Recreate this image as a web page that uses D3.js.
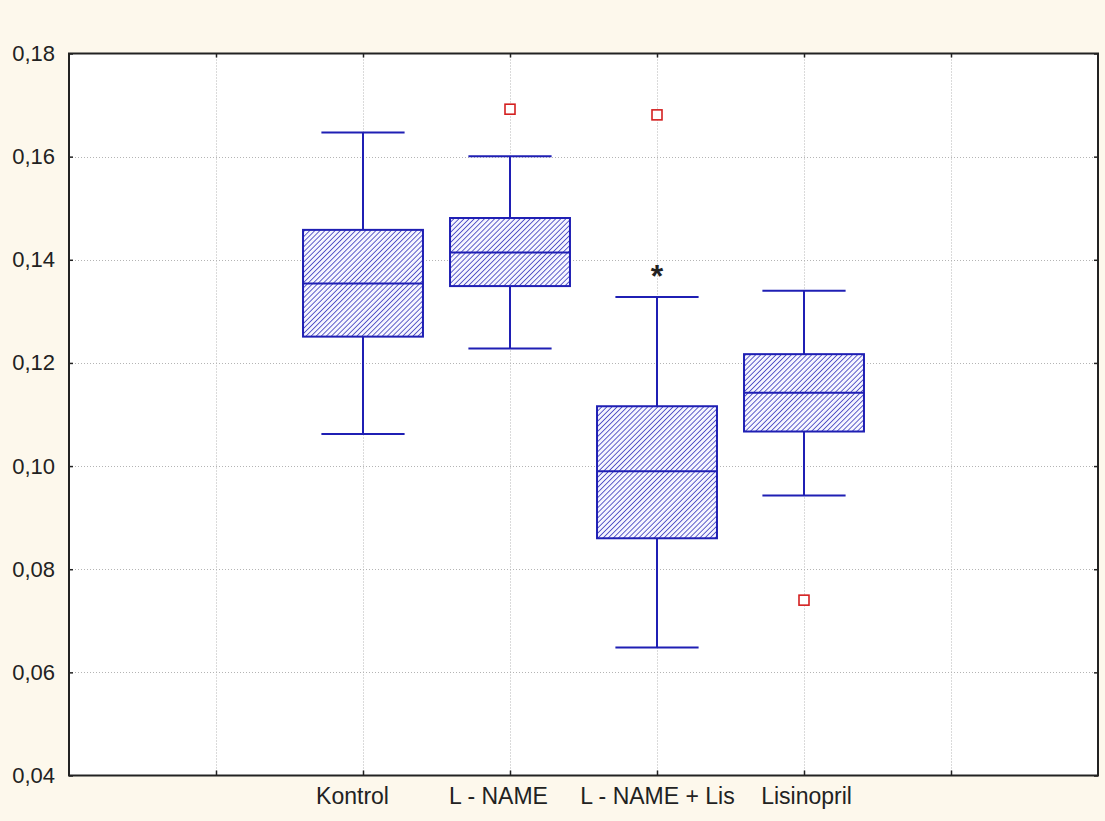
<!DOCTYPE html>
<html>
<head>
<meta charset="utf-8">
<script src="https://cdn.jsdelivr.net/npm/d3@7"></script>
<style>
  html, body { margin: 0; padding: 0; background: #fdf8ec; }
  svg { display: block; }
  text { font-family: "Liberation Sans", Arial, sans-serif; fill: #222; }
</style>
</head>
<body>
<svg id="chart" width="1105" height="821"></svg>
<script>
// Groups and their box-plot statistics
const groups      = ["Kontrol", "L - NAME", "L - NAME + Lis", "Lisinopril"];
const whiskerLow  = [0.1062, 0.1228, 0.0648, 0.0943];
const boxLow      = [0.1251, 0.1349, 0.0860, 0.1067];
const medians     = [0.1354, 0.1414, 0.0990, 0.1142];
const boxHigh     = [0.1458, 0.1481, 0.1116, 0.1217];
const whiskerHigh = [0.1647, 0.1601, 0.1328, 0.1340];
// Outliers: [group index, value]
const outliers    = [[1, 0.1692], [2, 0.1681], [3, 0.0740]];
// Significance marker: [group index, value]
const marks       = [[2, 0.1374]];
const yTicks      = [0.04, 0.06, 0.08, 0.10, 0.12, 0.14, 0.16, 0.18];
const xGridSlots  = [1, 2, 3, 4, 5, 6];

const svg = d3.select("#chart");
const plot = { left: 69, right: 1098, top: 53.5, bottom: 775.5 };
// horizontal nudge of each category label (px), so long labels don't crowd
const labelNudge = [-11, -12, 0, 2];

const x = d3.scaleLinear().domain([0, 7]).range([plot.left, plot.right]);
const y = d3.scaleLinear().domain([0.04, 0.18]).range([plot.bottom, plot.top]);
const slot = i => i + 2;

const fmt = d3.formatLocale({decimal: ",", thousands: ".", grouping: [3], currency: ["", ""]}).format(".2f");

const blue = "#1f1fb4";

// Hatch pattern for box fills
const defs = svg.append("defs");
const pat = defs.append("pattern")
  .attr("id", "hatch")
  .attr("patternUnits", "userSpaceOnUse")
  .attr("width", 3.6).attr("height", 3.6)
  .attr("patternTransform", "rotate(45)");
pat.append("rect").attr("width", 3.6).attr("height", 3.6).attr("fill", "#f6f6ff");
pat.append("line").attr("x1", 0).attr("y1", 0).attr("x2", 0).attr("y2", 3.6)
  .attr("stroke", blue).attr("stroke-width", 1.4);

// Plot area
svg.append("rect")
  .attr("x", plot.left).attr("y", plot.top)
  .attr("width", plot.right - plot.left).attr("height", plot.bottom - plot.top)
  .attr("fill", "#ffffff");

// Grid lines
const grid = svg.append("g").attr("stroke", "#b4b4b4").attr("stroke-width", 1)
  .attr("stroke-dasharray", "1,2");
grid.selectAll("line.h").data(yTicks.slice(1, -1)).join("line")
  .attr("x1", plot.left).attr("x2", plot.right)
  .attr("y1", d => Math.round(y(d)) + 0.5).attr("y2", d => Math.round(y(d)) + 0.5);
grid.selectAll("line.v").data(xGridSlots).join("line")
  .attr("x1", d => Math.round(x(d)) + 0.5).attr("x2", d => Math.round(x(d)) + 0.5)
  .attr("y1", plot.top).attr("y2", plot.bottom);

// Axes (ticks pointing inward)
const axisL = svg.append("g").attr("transform", `translate(${plot.left},0)`)
  .call(d3.axisLeft(y).tickValues(yTicks).tickFormat(fmt).tickSizeInner(-4).tickSizeOuter(0).tickPadding(14));
axisL.select(".domain").remove();
axisL.selectAll("line").attr("stroke", "#222").attr("stroke-width", 1.5);
axisL.selectAll("text").attr("font-size", 22).attr("fill", "#222");

const axisR = svg.append("g").attr("transform", `translate(${plot.right},0)`)
  .call(d3.axisRight(y).tickValues(yTicks).tickFormat("").tickSizeInner(-4).tickSizeOuter(0));
axisR.select(".domain").remove();
axisR.selectAll("line").attr("stroke", "#222").attr("stroke-width", 1.5);

const axisB = svg.append("g").attr("transform", `translate(0,${plot.bottom})`)
  .call(d3.axisBottom(x).tickValues(xGridSlots).tickFormat(d => groups[d - 2] || "")
    .tickSizeInner(-5).tickSizeOuter(0).tickPadding(12));
axisB.select(".domain").remove();
axisB.selectAll("line").attr("stroke", "#222").attr("stroke-width", 1.5);
axisB.selectAll("text").attr("font-size", 23).attr("fill", "#222")
  .attr("dx", d => labelNudge[d - 2] || 0);

const axisT = svg.append("g").attr("transform", `translate(0,${plot.top})`)
  .call(d3.axisTop(x).tickValues(xGridSlots).tickFormat("").tickSizeInner(-4).tickSizeOuter(0));
axisT.select(".domain").remove();
axisT.selectAll("line").attr("stroke", "#222").attr("stroke-width", 1.5);

// Frame
svg.append("rect")
  .attr("x", plot.left).attr("y", plot.top)
  .attr("width", plot.right - plot.left).attr("height", plot.bottom - plot.top)
  .attr("fill", "none").attr("stroke", "#222").attr("stroke-width", 2);

// Boxes
const boxHalf = 0.408, capHalf = 0.283;
const bx = svg.append("g");
groups.forEach((g, i) => {
  const cx = x(slot(i));
  // whiskers
  bx.append("line").attr("x1", cx).attr("x2", cx)
    .attr("y1", y(whiskerHigh[i])).attr("y2", y(boxHigh[i]))
    .attr("stroke", blue).attr("stroke-width", 2);
  bx.append("line").attr("x1", cx).attr("x2", cx)
    .attr("y1", y(boxLow[i])).attr("y2", y(whiskerLow[i]))
    .attr("stroke", blue).attr("stroke-width", 2);
  [whiskerHigh[i], whiskerLow[i]].forEach(v => {
    bx.append("line")
      .attr("x1", x(slot(i) - capHalf)).attr("x2", x(slot(i) + capHalf))
      .attr("y1", y(v)).attr("y2", y(v))
      .attr("stroke", blue).attr("stroke-width", 2);
  });
  // box
  bx.append("rect")
    .attr("x", x(slot(i) - boxHalf)).attr("y", y(boxHigh[i]))
    .attr("width", x(slot(i) + boxHalf) - x(slot(i) - boxHalf))
    .attr("height", y(boxLow[i]) - y(boxHigh[i]))
    .attr("fill", "url(#hatch)").attr("stroke", blue).attr("stroke-width", 2);
  // median
  bx.append("line")
    .attr("x1", x(slot(i) - boxHalf)).attr("x2", x(slot(i) + boxHalf))
    .attr("y1", y(medians[i])).attr("y2", y(medians[i]))
    .attr("stroke", blue).attr("stroke-width", 2);
});

// Outliers
svg.append("g").selectAll("rect").data(outliers).join("rect")
  .attr("x", d => x(slot(d[0])) - 5).attr("y", d => y(d[1]) - 5)
  .attr("width", 10).attr("height", 10)
  .attr("fill", "#ffffff").attr("stroke", "#d42020").attr("stroke-width", 1.6);

// Significance marker
svg.append("g").selectAll("text").data(marks).join("text")
  .attr("x", d => x(slot(d[0]))).attr("y", d => y(d[1]) + 14)
  .attr("text-anchor", "middle")
  .attr("font-size", 32).attr("font-weight", "bold").attr("fill", "#111")
  .text("*");
</script>
</body>
</html>
